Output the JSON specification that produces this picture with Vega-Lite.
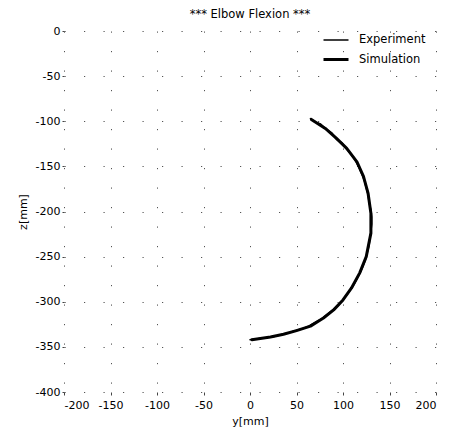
{
  "$schema": "https://vega.github.io/schema/vega-lite/v6.json",
  "width": 372,
  "height": 361,
  "autosize": {"type": "none"},
  "padding": {"left": 64, "top": 31, "right": 17, "bottom": 40},
  "background": "white",
  "config": {
    "font": "DejaVu Sans",
    "view": {"stroke": null},
    "axis": {
      "labelFont": "DejaVu Sans",
      "titleFont": "DejaVu Sans",
      "labelFontSize": 11,
      "titleFontSize": 11,
      "titleFontWeight": "normal",
      "labelColor": "black",
      "titleColor": "black",
      "tickColor": "#444",
      "tickSize": 3,
      "domain": false,
      "gridColor": "#555",
      "gridDash": [1.2, 18.3],
      "gridWidth": 1,
      "labelExpr": "replace(datum.label, '\u2212', '-')"
    }
  },
  "title": {
    "text": "*** Elbow Flexion ***",
    "fontSize": 11.5,
    "fontWeight": "normal",
    "font": "DejaVu Sans",
    "color": "black",
    "offset": 5
  },
  "data": {
    "values": [
      {"series": "Experiment", "order": 1, "y": 65, "z": -97},
      {"series": "Experiment", "order": 2, "y": 70, "z": -101},
      {"series": "Experiment", "order": 3, "y": 76, "z": -103},
      {"series": "Experiment", "order": 4, "y": 82, "z": -109},
      {"series": "Experiment", "order": 5, "y": 88, "z": -113},
      {"series": "Experiment", "order": 6, "y": 93, "z": -120},
      {"series": "Experiment", "order": 7, "y": 99, "z": -124},
      {"series": "Experiment", "order": 8, "y": 104, "z": -131},
      {"series": "Experiment", "order": 9, "y": 109, "z": -137},
      {"series": "Experiment", "order": 10, "y": 113, "z": -143},
      {"series": "Experiment", "order": 11, "y": 117, "z": -151},
      {"series": "Experiment", "order": 12, "y": 120, "z": -158},
      {"series": "Experiment", "order": 13, "y": 123, "z": -166},
      {"series": "Experiment", "order": 14, "y": 125, "z": -174},
      {"series": "Experiment", "order": 15, "y": 127, "z": -182},
      {"series": "Experiment", "order": 16, "y": 128, "z": -190},
      {"series": "Experiment", "order": 17, "y": 130, "z": -198},
      {"series": "Experiment", "order": 18, "y": 131, "z": -206},
      {"series": "Experiment", "order": 19, "y": 131, "z": -214},
      {"series": "Experiment", "order": 20, "y": 130, "z": -222},
      {"series": "Experiment", "order": 21, "y": 129, "z": -230},
      {"series": "Experiment", "order": 22, "y": 128, "z": -238},
      {"series": "Experiment", "order": 23, "y": 126, "z": -246},
      {"series": "Experiment", "order": 24, "y": 124, "z": -254},
      {"series": "Experiment", "order": 25, "y": 121, "z": -262},
      {"series": "Experiment", "order": 26, "y": 118, "z": -269},
      {"series": "Experiment", "order": 27, "y": 114, "z": -277},
      {"series": "Experiment", "order": 28, "y": 110, "z": -284},
      {"series": "Experiment", "order": 29, "y": 105, "z": -291},
      {"series": "Experiment", "order": 30, "y": 100, "z": -298},
      {"series": "Experiment", "order": 31, "y": 95, "z": -304},
      {"series": "Experiment", "order": 32, "y": 89, "z": -309},
      {"series": "Experiment", "order": 33, "y": 83, "z": -314},
      {"series": "Experiment", "order": 34, "y": 77, "z": -319},
      {"series": "Experiment", "order": 35, "y": 70, "z": -323},
      {"series": "Experiment", "order": 36, "y": 63, "z": -327},
      {"series": "Experiment", "order": 37, "y": 56, "z": -330},
      {"series": "Experiment", "order": 38, "y": 48, "z": -332},
      {"series": "Experiment", "order": 39, "y": 40, "z": -335},
      {"series": "Experiment", "order": 40, "y": 32, "z": -337},
      {"series": "Experiment", "order": 41, "y": 24, "z": -339},
      {"series": "Experiment", "order": 42, "y": 16, "z": -340},
      {"series": "Experiment", "order": 43, "y": 8, "z": -341},
      {"series": "Experiment", "order": 44, "y": 0, "z": -342},
      {"series": "Simulation", "order": 1, "y": 66, "z": -98},
      {"series": "Simulation", "order": 2, "y": 81, "z": -108},
      {"series": "Simulation", "order": 3, "y": 93, "z": -119},
      {"series": "Simulation", "order": 4, "y": 104, "z": -130},
      {"series": "Simulation", "order": 5, "y": 115, "z": -145},
      {"series": "Simulation", "order": 6, "y": 122, "z": -161},
      {"series": "Simulation", "order": 7, "y": 127, "z": -180},
      {"series": "Simulation", "order": 8, "y": 130, "z": -202},
      {"series": "Simulation", "order": 9, "y": 130, "z": -224},
      {"series": "Simulation", "order": 10, "y": 125, "z": -250},
      {"series": "Simulation", "order": 11, "y": 118, "z": -268},
      {"series": "Simulation", "order": 12, "y": 109, "z": -285},
      {"series": "Simulation", "order": 13, "y": 100, "z": -298},
      {"series": "Simulation", "order": 14, "y": 90, "z": -309},
      {"series": "Simulation", "order": 15, "y": 79, "z": -318},
      {"series": "Simulation", "order": 16, "y": 65, "z": -327},
      {"series": "Simulation", "order": 17, "y": 50, "z": -332},
      {"series": "Simulation", "order": 18, "y": 36, "z": -336},
      {"series": "Simulation", "order": 19, "y": 22, "z": -339},
      {"series": "Simulation", "order": 20, "y": 2, "z": -342}
    ]
  },
  "mark": {"type": "line", "color": "black", "strokeCap": "round", "strokeJoin": "round"},
  "encoding": {
    "x": {
      "field": "y",
      "type": "quantitative",
      "title": "y[mm]",
      "scale": {"domain": [-200, 200], "nice": false, "zero": false},
      "axis": {
        "values": [-200, -150, -100, -50, 0, 50, 100, 150, 200],
        "labelPadding": 4,
        "titlePadding": 5
      }
    },
    "y": {
      "field": "z",
      "type": "quantitative",
      "title": "z[mm]",
      "scale": {"domain": [-400, 0], "nice": false, "zero": false},
      "axis": {
        "values": [-400, -350, -300, -250, -200, -150, -100, -50, 0],
        "tickSize": 2,
        "labelPadding": 2,
        "titlePadding": 7
      }
    },
    "detail": {"field": "series"},
    "order": {"field": "order", "type": "quantitative"},
    "strokeWidth": {
      "field": "series",
      "type": "nominal",
      "scale": {"domain": ["Experiment", "Simulation"], "range": [1.5, 3]},
      "legend": {
        "title": null,
        "orient": "none",
        "legendX": 258,
        "legendY": -4.5,
        "symbolType": "stroke",
        "symbolSize": 625,
        "symbolStrokeColor": "black",
        "labelFont": "DejaVu Sans",
        "labelFontSize": 11.5,
        "labelColor": "black",
        "labelOffset": 9,
        "rowPadding": -10
      }
    }
  }
}
